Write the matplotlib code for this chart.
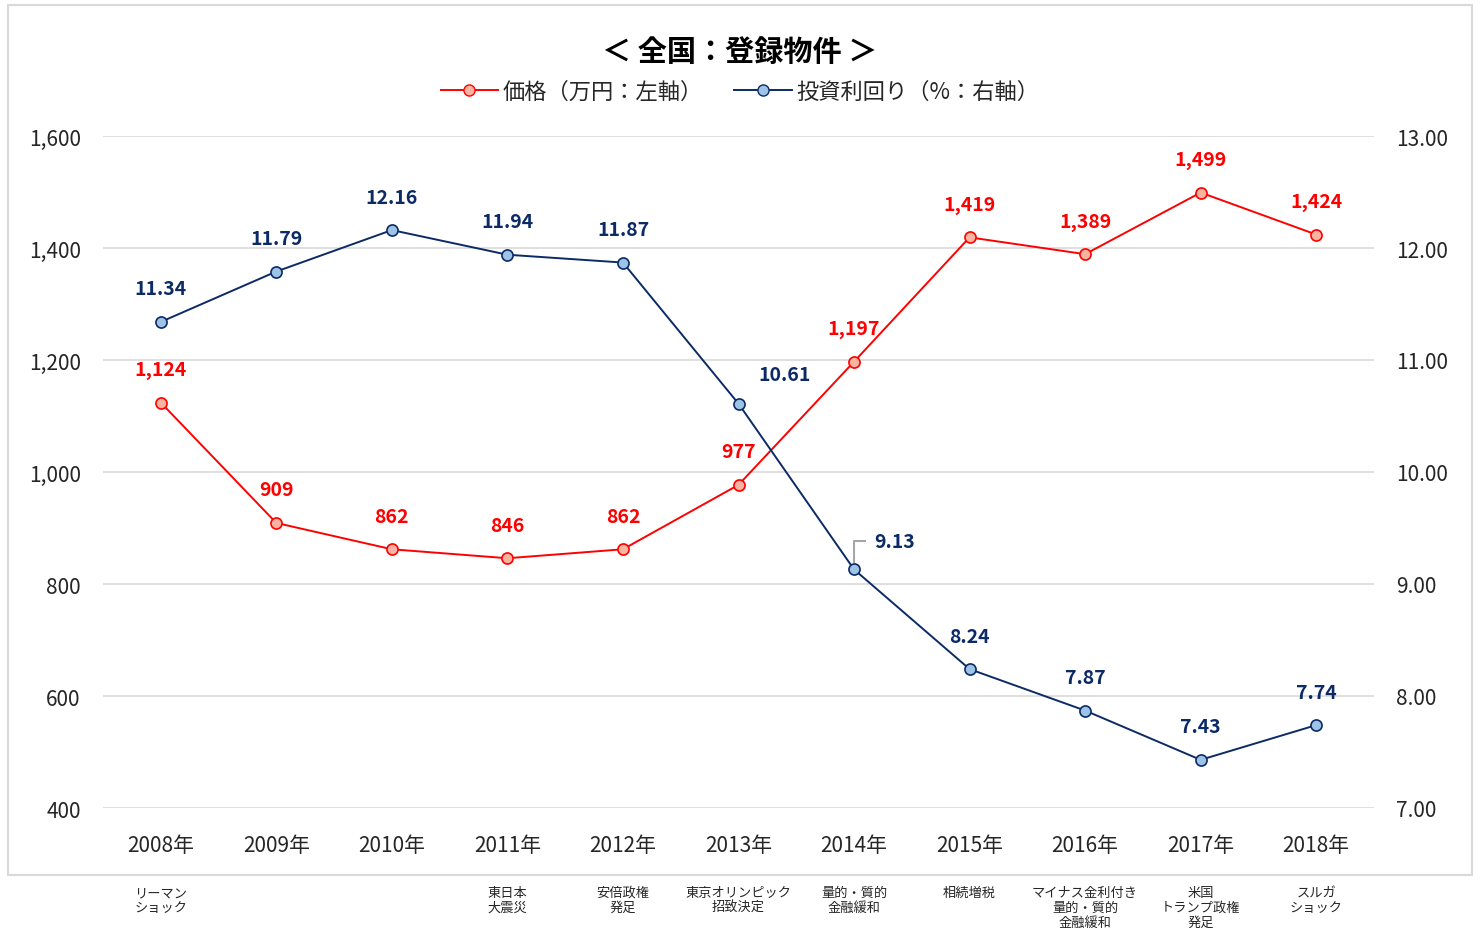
import numpy as np
import matplotlib
matplotlib.use("Agg")
import matplotlib.pyplot as plt
from matplotlib.lines import Line2D
from matplotlib.patches import Rectangle

plt.rcParams['font.family'] = ['Noto Sans CJK JP', 'DejaVu Sans']

years = ["2008年", "2009年", "2010年", "2011年", "2012年", "2013年",
         "2014年", "2015年", "2016年", "2017年", "2018年"]
price = [1124, 909, 862, 846, 862, 977, 1197, 1419, 1389, 1499, 1424]
yields = [11.34, 11.79, 12.16, 11.94, 11.87, 10.61, 9.13, 8.24, 7.87, 7.43, 7.74]
events = ["リーマン\nショック", "", "", "東日本\n大震災", "安倍政権\n発足",
          "東京オリンピック\n招致決定", "量的・質的\n金融緩和", "相続増税",
          "マイナス金利付き\n量的・質的\n金融緩和", "米国\nトランプ政権\n発足",
          "スルガ\nショック"]

red = "#FF0000"
navy = "#0B2A66"

fig = plt.figure(figsize=(14.8, 9.37), dpi=100)
fig.patches.append(Rectangle((8 / 1480, 1 - 876 / 937), 1464 / 1480, 870 / 937,
                             transform=fig.transFigure, fill=False,
                             edgecolor="#D9D9D9", linewidth=1.5))

ax = fig.add_axes([103 / 1480, 1 - 809 / 937, 1271 / 1480, 672 / 937])
ax2 = ax.twinx()
x = np.arange(len(years))

ax.set_xlim(-0.5, len(years) - 0.5)
ax.set_ylim(400, 1600)
ax.set_yticks(np.arange(400, 1601, 200))
ax.set_yticklabels([f"{v:,}" for v in range(400, 1601, 200)])
ax2.set_ylim(7, 13)
ax2.set_yticks(np.arange(7, 13.01, 1))
ax2.set_yticklabels([f"{v:.2f}" for v in np.arange(7, 13.01, 1)])
ax.set_xticks(x)
ax.set_xticklabels(years)
ax.grid(axis="y", color="#D9D9D9", linewidth=1.2)
ax.set_axisbelow(True)
for a in (ax, ax2):
    for s in a.spines.values():
        s.set_visible(False)
    a.tick_params(length=0, labelsize=15, colors="#262626")
ax.tick_params(axis="y", pad=16)
ax2.tick_params(axis="y", pad=16)
ax.tick_params(axis="x", pad=19)

ax.plot(x, price, color=red, linewidth=1.4, marker="o", markersize=8,
        markerfacecolor="#F8B4A0", markeredgecolor=red, markeredgewidth=1.2, zorder=3)
ax2.plot(x, yields, color=navy, linewidth=1.4, marker="o", markersize=8,
         markerfacecolor="#9DC3E6", markeredgecolor=navy, markeredgewidth=1.2, zorder=3)

for i, v in enumerate(price):
    ax.annotate(f"{v:,}", (x[i], v), xytext=(0, 33), textcoords="offset pixels",
                ha="center", va="center", color=red, fontsize=14, fontweight="bold")

for i, v in enumerate(yields):
    off = (0, 33)
    if i == 5:
        off = (46, 29)
    elif i == 6:
        off = (41, 28)
    ax2.annotate(f"{v:.2f}", (x[i], v), xytext=off, textcoords="offset pixels",
                 ha="center", va="center", color=navy, fontsize=14,
                 fontweight="bold")

# leader line for 9.13
i = 6
p = ax2.transData.transform((x[i], yields[i]))
pts = np.array([[p[0], p[1] + 7], [p[0], p[1] + 28], [p[0] + 11, p[1] + 28]])
pts = ax2.transData.inverted().transform(pts)
ax2.plot(pts[:, 0], pts[:, 1], color="#A6A6A6", linewidth=1.5, zorder=2)

for i, e in enumerate(events):
    if not e:
        continue
    xf = ax.transData.transform((x[i], 0))[0]
    fig.text(xf / 1480, 1 - 887 / 937, e, ha="center", va="top",
             fontsize=9.5, color="#262626", linespacing=1.2)

fig.text(0.5, 1 - 52 / 937, "＜ 全国：登録物件 ＞", ha="center", va="center",
         fontsize=21, fontweight="bold", color="#000000")

handles = [Line2D([], [], color=red, linewidth=1.4, marker="o", markersize=8,
                  markerfacecolor="#F8B4A0", markeredgecolor=red),
           Line2D([], [], color=navy, linewidth=1.4, marker="o", markersize=8,
                  markerfacecolor="#9DC3E6", markeredgecolor=navy)]
fig.legend(handles, ["価格（万円：左軸）", "投資利回り（%：右軸）"],
           loc="center", bbox_to_anchor=(0.5, 1 - 92 / 937), ncol=2,
           frameon=False, fontsize=16, handlelength=2.6, handletextpad=0.2,
           columnspacing=1.4, labelcolor="#262626")

fig.savefig("out.png", dpi=100)
